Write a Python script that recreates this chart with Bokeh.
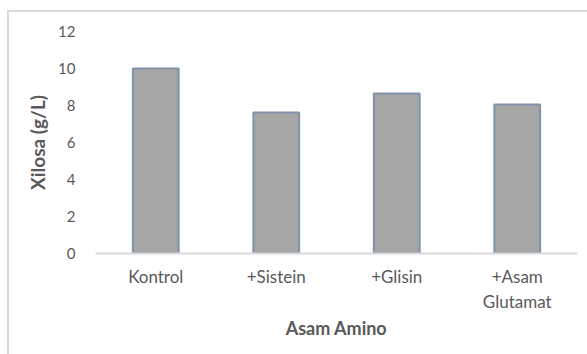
from bokeh.plotting import figure
from bokeh.embed import file_html
from bokeh.resources import INLINE
from bokeh.models import FactorRange

categories = ["Kontrol", "+Sistein", "+Glisin", "+Asam\nGlutamat"]
xilosa = [10.0, 7.62, 8.65, 8.05]
y_ticks = [0, 2, 4, 6, 8, 10, 12]

FONT = "Lato"
TXT = "#595959"

p = figure(width=578, height=342, x_range=FactorRange(*categories), y_range=(0, 12),
           output_backend="svg", toolbar_location=None,
           min_border_left=86, min_border_top=19, min_border_right=12, min_border_bottom=103)
p.margin = (10, 0, 0, 7)
p.styles = {"border-top": "2px solid #d9d9d9", "border-left": "2px solid #d9d9d9",
            "box-sizing": "content-box"}

p.vbar(x=categories, top=xilosa, width=0.38, fill_color="#a5a5a5",
       line_color="#7f93ab", line_width=2)

p.outline_line_color = None
p.grid.visible = False
p.background_fill_color = "white"
p.border_fill_color = "white"

p.yaxis.ticker = y_ticks
p.yaxis.axis_line_color = None
p.yaxis.major_tick_line_color = None
p.yaxis.minor_tick_line_color = None
p.yaxis.major_label_standoff = 14
p.yaxis.axis_label = "Xilosa (g/L)"
p.yaxis.axis_label_standoff = 6
p.yaxis.major_label_text_font_size = "15px"
p.yaxis.axis_label_text_font_size = "19px"

p.xaxis.axis_line_color = "#d9d9d9"
p.xaxis.axis_line_width = 2
p.xaxis.major_tick_line_color = None
p.xaxis.minor_tick_line_color = None
p.xaxis.major_label_standoff = 6
p.xaxis.axis_label = "Asam Amino"
p.xaxis.axis_label_standoff = 2
p.xaxis.major_label_text_font_size = "17px"
p.xaxis.axis_label_text_font_size = "18px"

for ax in (p.xaxis[0], p.yaxis[0]):
    ax.major_label_text_font = FONT
    ax.major_label_text_color = TXT
    ax.axis_label_text_font = FONT
    ax.axis_label_text_font_style = "bold"
    ax.axis_label_text_color = TXT

open("out.html", "w").write(file_html(p, INLINE))
